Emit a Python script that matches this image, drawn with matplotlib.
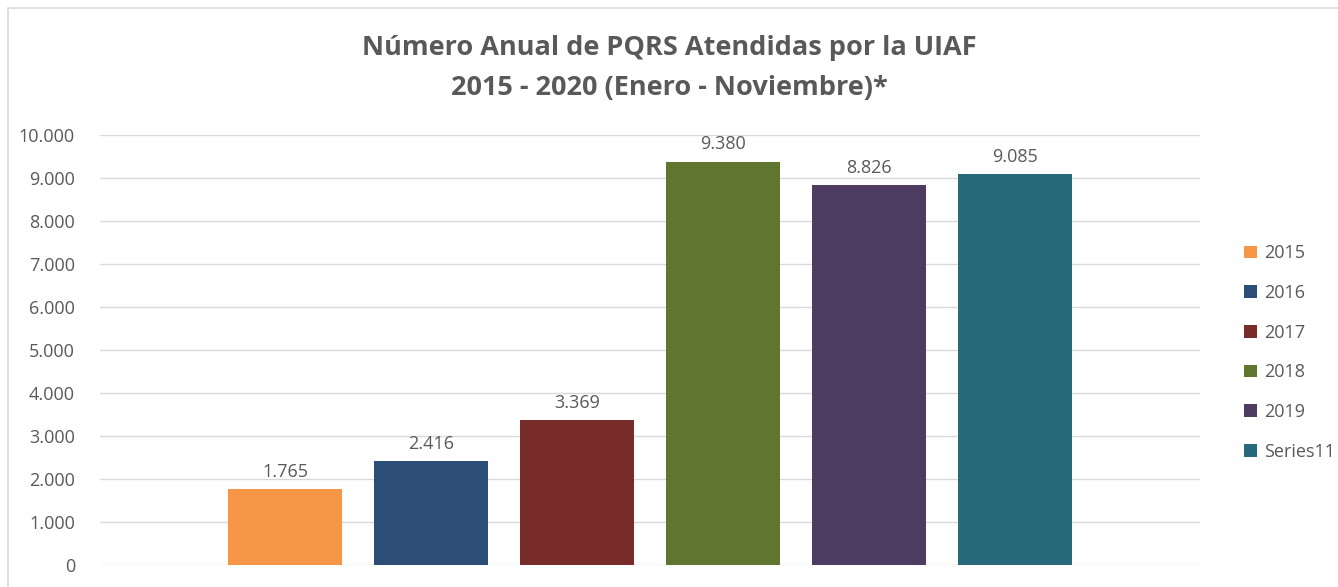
import matplotlib.pyplot as plt
from matplotlib.patches import Rectangle
from matplotlib.ticker import FuncFormatter

# data
series = ["2015", "2016", "2017", "2018", "2019", "Series11"]
values = [1765, 2416, 3369, 9380, 8826, 9085]
colors = ["#F79646", "#2C4D75", "#772C2A", "#5F7530", "#4D3B62", "#276A7C"]

GRAY = "#595959"
plt.rcParams["font.family"] = ["Open Sans", "DejaVu Sans"]

fig = plt.figure(figsize=(13.38, 5.87), dpi=100)
ax = fig.add_axes([100 / 1338, 22 / 587, 1100 / 1338, 430 / 587])

# chart border (cropped at bottom/right)
fig.patches.append(Rectangle((8 / 1338, -0.2), 1.5, 1.2 - 8 / 587,
                             transform=fig.transFigure, fill=False,
                             edgecolor="#D9D9D9", linewidth=1.2))

x = list(range(len(values)))
bars = ax.bar(x, values, width=0.78, color=colors, label=series, zorder=3)
for xi, v in zip(x, values):
    ax.text(xi, v + 200, f"{v:,}".replace(",", "."), ha="center", va="bottom",
            fontsize=13, color=GRAY)

ax.set_xlim(-1.267, len(values) - 1 + 1.267)
ax.set_ylim(0, 10000)
ax.set_yticks(range(0, 10001, 1000))
ax.yaxis.set_major_formatter(FuncFormatter(lambda v, p: f"{int(v):,}".replace(",", ".")))
ax.tick_params(axis="y", length=0, labelsize=13, labelcolor=GRAY, pad=18)
ax.set_xticks([])
ax.grid(axis="y", color="#D9D9D9", linewidth=1, zorder=0)
for s in ax.spines.values():
    s.set_visible(False)

fig.text(0.5, 1 - 48 / 587, "Número Anual de PQRS Atendidas por la UIAF",
         ha="center", va="center", fontsize=19.5, fontweight="bold", color=GRAY)
fig.text(0.5, 1 - 88 / 587, "2015 - 2020 (Enero - Noviembre)*",
         ha="center", va="center", fontsize=19.5, fontweight="bold", color=GRAY)

leg = fig.legend(handles=bars, labels=series, loc="upper left",
                 bbox_to_anchor=(1228 / 1338, 1 - 228 / 587), frameon=False,
                 fontsize=13, labelcolor=GRAY, handlelength=0.7, handleheight=0.7,
                 handletextpad=0.4, labelspacing=1.2)

fig.savefig("out.png", dpi=100)
